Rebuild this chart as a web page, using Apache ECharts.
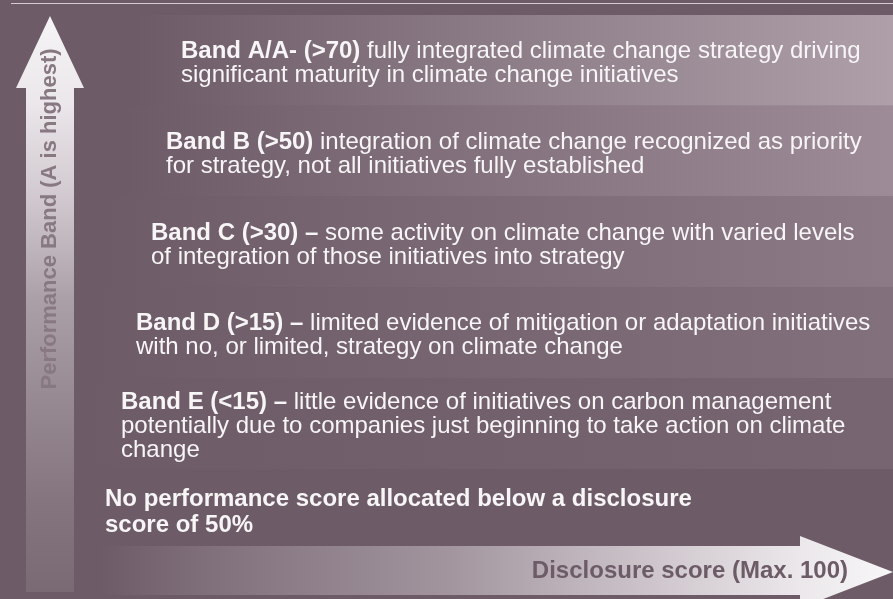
<!DOCTYPE html>
<html>
<head>
<meta charset="utf-8">
<script src="https://cdn.jsdelivr.net/npm/echarts@6/dist/echarts.min.js"></script>
<style>
  html, body { margin: 0; padding: 0; background: #6d5c67; }
  #chart { width: 893px; height: 599px; }
</style>
</head>
<body>
<div id="chart"></div>
<script>
// bands listed bottom -> top (E .. A)
const bandNames = ['Band E (<15) –', 'Band D (>15) –', 'Band C (>30) –', 'Band B (>50)', 'Band A/A- (>70)']
const bandText = [
  'little evidence of initiatives on carbon management\npotentially due to companies just beginning to take action on climate\nchange',
  'limited evidence of mitigation or adaptation initiatives\nwith no, or limited, strategy on climate change',
  'some activity on climate change with varied levels\nof integration of those initiatives into strategy',
  'integration of climate change recognized as priority\nfor strategy, not all initiatives fully established',
  'fully integrated climate change strategy driving\nsignificant maturity in climate change initiatives'
]
const noScoreNote = 'No performance score allocated below a disclosure\nscore of 50%'
const yAxisTitle = 'Performance Band (A is highest)'
const xAxisTitle = 'Disclosure score (Max. 100)'

const bg = '#6d5c67'
const bandEndColors = ['#776671', '#82707c', '#8c7b87', '#9d8c97', '#ae9fa9']
const font = "'Liberation Sans', Arial, Helvetica, sans-serif"
const fontSize = 24

const chart = echarts.init(document.getElementById('chart'))

function renderBand(params, api) {
  const i = api.value(1)
  const center = api.coord([0, i])
  const right = api.coord([api.value(0), i])[0]
  const h = api.size([0, 1])[1]
  // staircase: every band higher up starts a step further right
  const textX = 121 + 15 * i
  const rectX = textX - 45
  return {
    type: 'group',
    children: [
      {
        type: 'rect',
        shape: { x: rectX, y: center[1] - h / 2, width: right - rectX, height: h },
        style: {
          fill: new echarts.graphic.LinearGradient(0, 0, 1, 0, [
            { offset: 0, color: bg },
            { offset: 1, color: bandEndColors[i] }
          ])
        }
      },
      {
        type: 'text',
        x: textX,
        y: center[1] + 3,
        style: {
          text: '{b|' + bandNames[i] + '} {r|' + bandText[i] + '}',
          align: 'left',
          verticalAlign: 'middle',
          fill: '#f7f5f6',
          fontFamily: font,
          fontSize: fontSize,
          lineHeight: 24,
          rich: {
            b: { fontWeight: 'bold', fontFamily: font, fontSize: fontSize, lineHeight: 24, fill: '#f7f5f6' },
            r: { fontWeight: 'normal', fontFamily: font, fontSize: fontSize, lineHeight: 24, fill: '#f7f5f6' }
          }
        }
      }
    ]
  }
}

chart.setOption({
  backgroundColor: bg,
  animation: false,
  grid: { left: 0, right: 0, top: 15, bottom: 130 },
  xAxis: { type: 'value', min: 0, max: 100, show: false },
  yAxis: { type: 'category', data: bandNames, show: false },
  graphic: [
    {
      type: 'line',
      shape: { x1: 11, y1: 3.5, x2: 893, y2: 3.5 },
      style: { stroke: '#d2cbcf', lineWidth: 1.2 }
    },
    {
      type: 'polygon',
      shape: { points: [[50, 16], [84, 88], [74, 88], [74, 592], [26, 592], [26, 88], [16, 88]] },
      style: {
        fill: new echarts.graphic.LinearGradient(0, 0, 0, 1, [
          { offset: 0, color: '#f6f4f6' },
          { offset: 0.15, color: '#ebe7ea' },
          { offset: 0.32, color: '#d0c8ce' },
          { offset: 0.49, color: '#aca0a8' },
          { offset: 0.67, color: '#968991' },
          { offset: 0.84, color: '#85757f' },
          { offset: 1, color: '#7a6a74' }
        ])
      }
    },
    {
      type: 'text',
      x: 50,
      y: 219,
      rotation: Math.PI / 2,
      style: {
        text: yAxisTitle,
        align: 'center',
        verticalAlign: 'middle',
        fill: '#887882',
        fontFamily: font,
        fontWeight: 'bold',
        fontSize: 22
      }
    },
    {
      type: 'polygon',
      shape: { points: [[100, 546], [800, 546], [800, 536], [893, 572], [800, 608], [800, 595], [100, 595]] },
      style: {
        fill: new echarts.graphic.LinearGradient(0, 0, 1, 0, [
          { offset: 0, color: bg },
          { offset: 0.13, color: '#7f6f7a' },
          { offset: 0.44, color: '#a2959e' },
          { offset: 0.63, color: '#c3b9c0' },
          { offset: 0.88, color: '#ebe7ea' },
          { offset: 1, color: '#f8f7f8' }
        ])
      }
    },
    {
      type: 'text',
      x: 848,
      y: 571,
      style: {
        text: xAxisTitle,
        align: 'right',
        verticalAlign: 'middle',
        fill: bg,
        fontFamily: font,
        fontWeight: 'bold',
        fontSize: fontSize
      }
    },
    {
      type: 'text',
      x: 105,
      y: 512,
      style: {
        text: noScoreNote,
        align: 'left',
        verticalAlign: 'middle',
        fill: '#f7f5f6',
        fontFamily: font,
        fontWeight: 'bold',
        fontSize: 24,
        lineHeight: 26
      }
    }
  ],
  series: [
    {
      type: 'custom',
      renderItem: renderBand,
      encode: { x: 0, y: 1 },
      data: bandNames.map((name, i) => [100, i])
    }
  ]
})
</script>
</body>
</html>
